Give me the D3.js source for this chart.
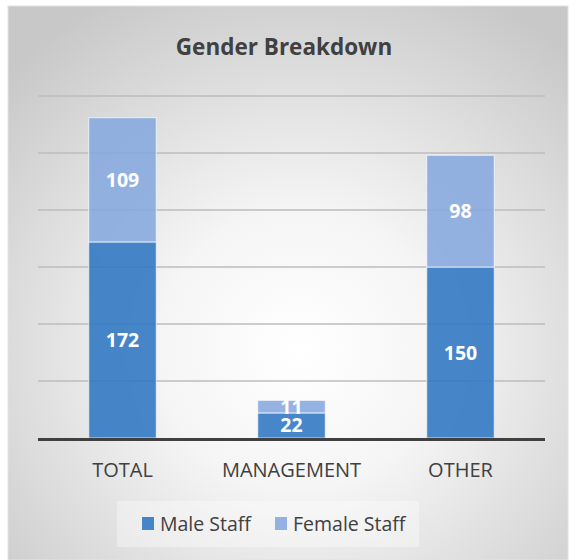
<!DOCTYPE html>
<html>
<head>
<meta charset="utf-8">
<script src="https://cdn.jsdelivr.net/npm/d3@7"></script>
<style>
  html, body { margin: 0; padding: 0; background: #ffffff; }
  svg { display: block; }
</style>
</head>
<body>
<svg id="chart" width="569" height="560"></svg>
<script>
// Staff counts by group, stacked male + female
const categories = ["TOTAL", "MANAGEMENT", "OTHER"];
const maleStaff = [172, 22, 150];
const femaleStaff = [109, 11, 98];
const seriesNames = ["Male Staff", "Female Staff"];
const gridTicks = [50, 100, 150, 200, 250, 300];

const W = 569, H = 560;
const svg = d3.select("#chart");
const font = "'Open Sans', 'DejaVu Sans', sans-serif";

// Panel with soft radial shading
const defs = svg.append("defs");
const grad = defs.append("radialGradient")
  .attr("id", "bg").attr("cx", "52%").attr("cy", "62%").attr("r", "72%");
grad.append("stop").attr("offset", "0%").attr("stop-color", "#ffffff");
grad.append("stop").attr("offset", "35%").attr("stop-color", "#f5f5f5");
grad.append("stop").attr("offset", "100%").attr("stop-color", "#c8c8c8");

svg.append("rect")
  .attr("x", 8).attr("y", 6).attr("width", 560).attr("height", H - 6)
  .attr("fill", "url(#bg)")
  .attr("stroke", "#e2e2e2").attr("stroke-width", 1);

// Title
svg.append("text")
  .attr("x", 284).attr("y", 55)
  .attr("text-anchor", "middle")
  .attr("font-family", font).attr("font-weight", "bold")
  .attr("font-size", 22.5).attr("fill", "#404040")
  .text("Gender Breakdown");

// Scales
const plot = { left: 38, right: 545, top: 96, bottom: 438 };
const x = d3.scaleBand().domain(categories)
  .range([plot.left, plot.right]).paddingInner(0.6).paddingOuter(0.3);
const y = d3.scaleLinear().domain([0, 300]).range([plot.bottom, plot.top]);

// Gridlines
svg.append("g").selectAll("line").data(gridTicks).join("line")
  .attr("x1", plot.left).attr("x2", plot.right)
  .attr("y1", d => y(d)).attr("y2", d => y(d))
  .attr("stroke", "#bdbdbd").attr("stroke-width", 1.5);

// Stacked data
const rows = categories.map((c, i) => ({ cat: c, male: maleStaff[i], female: femaleStaff[i] }));
const stack = d3.stack().keys(["male", "female"])(rows);
const colors = { male: "#2E75C0", female: "#86A8DE" };

const layers = svg.append("g").selectAll("g").data(stack).join("g")
  .attr("fill", d => colors[d.key]).attr("fill-opacity", 0.88);

layers.selectAll("rect").data(d => d).join("rect")
  .attr("x", d => x(d.data.cat))
  .attr("width", x.bandwidth())
  .attr("y", d => y(d[1]))
  .attr("height", d => y(d[0]) - y(d[1]))
  .attr("stroke", "#ffffff").attr("stroke-opacity", 0.6).attr("stroke-width", 1.2);

// Value labels
layers.each(function(layer) {
  d3.select(this).selectAll("text").data(layer).join("text")
    .attr("x", d => x(d.data.cat) + x.bandwidth() / 2)
    .attr("y", d => (y(d[0]) + y(d[1])) / 2)
    .attr("dy", "0.36em")
    .attr("text-anchor", "middle")
    .attr("font-family", font).attr("font-weight", "bold")
    .attr("font-size", 19.5).attr("fill", "#ffffff").attr("fill-opacity", 1)
    .text(d => d[1] - d[0]);
});

// Baseline axis
svg.append("line")
  .attr("x1", plot.left).attr("x2", plot.right)
  .attr("y1", y(0) + 1.5).attr("y2", y(0) + 1.5)
  .attr("stroke", "#404040").attr("stroke-width", 3);

// Category labels
const xAxis = d3.axisBottom(x).tickSize(0).tickPadding(0);
const gx = svg.append("g").attr("transform", `translate(0, ${plot.bottom})`).call(xAxis);
gx.select(".domain").remove();
gx.selectAll("text")
  .attr("y", 39).attr("dy", 0)
  .attr("font-family", font).attr("font-size", 20).attr("fill", "#404040");

// Legend
const legend = svg.append("g");
legend.append("rect")
  .attr("x", 117).attr("y", 501).attr("width", 302).attr("height", 46)
  .attr("fill", "#ffffff").attr("fill-opacity", 0.35);
const legendItems = [
  { key: "male", label: seriesNames[0], x: 142 },
  { key: "female", label: seriesNames[1], x: 275 }
];
legendItems.forEach(it => {
  legend.append("rect")
    .attr("x", it.x).attr("y", 517).attr("width", 12).attr("height", 13)
    .attr("fill", colors[it.key]).attr("fill-opacity", 0.88);
  legend.append("text")
    .attr("x", it.x + 18).attr("y", 531)
    .attr("font-family", font).attr("font-size", 19.5).attr("fill", "#404040")
    .text(it.label);
});
</script>
</body>
</html>
